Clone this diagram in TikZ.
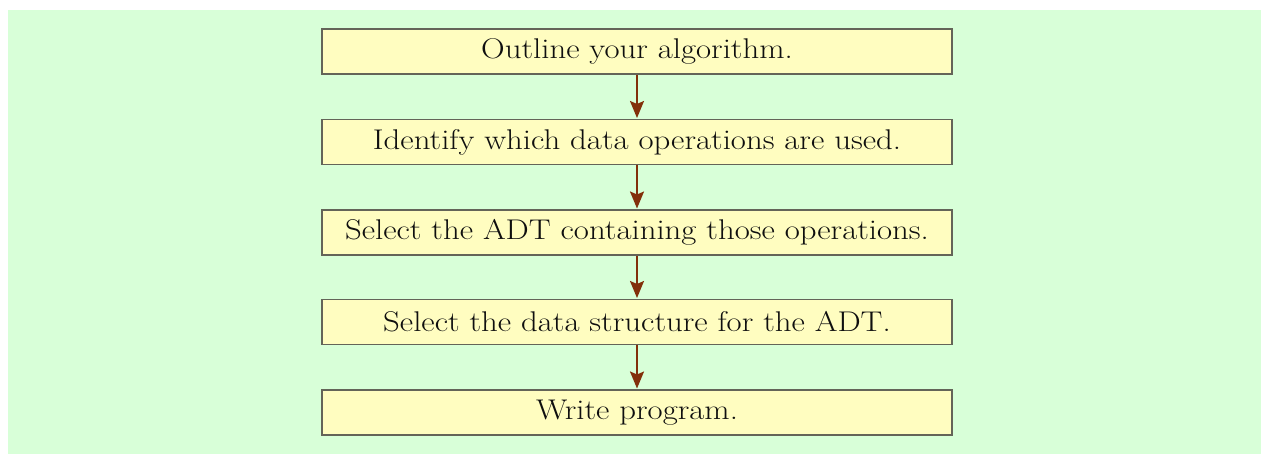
\documentclass[tikz,border=0pt]{standalone}
\usepackage{graphicx}
\usetikzlibrary{arrows.meta}
\definecolor{bggreen}{RGB}{216,255,216}
\definecolor{boxfill}{RGB}{255,253,192}
\definecolor{boxline}{RGB}{100,100,88}
\definecolor{arrowc}{RGB}{130,48,10}
\definecolor{txt}{RGB}{15,15,15}
\newcommand\widetext[1]{\scalebox{1.15}[1]{#1}}
\begin{document}
\begin{tikzpicture}[x=1pt,y=-1pt,
  stepbox/.style={draw=boxline, line width=1.8pt, fill=boxfill, minimum width=630pt, minimum height=45pt,
    inner sep=0pt, text=txt, font=\fontsize{28.5}{32}\selectfont, anchor=north},
  flow/.style={draw=arrowc, line width=2pt, -{Stealth[length=17pt,width=14pt,inset=3pt]}, shorten >=0.5pt}]
\useasboundingbox (0,0) rectangle (1261,455);
\fill[bggreen] (8,10) rectangle (1261,454);
\node[stepbox] (s1) at (637,28) {\widetext{Outline your algorithm.}};
\node[stepbox] (s2) at (637,118.5) {\widetext{Identify which data operations are used.}};
\node[stepbox] (s3) at (637,209) {\widetext{Select the ADT containing those operations.}};
\node[stepbox] (s4) at (637,298.5) {\widetext{Select the data structure for the ADT.}};
\node[stepbox] (s5) at (637,389) {\widetext{Write program.}};
\draw[flow] (s1) -- (s2);
\draw[flow] (s2) -- (s3);
\draw[flow] (s3) -- (s4);
\draw[flow] (s4) -- (s5);
\end{tikzpicture}
\end{document}
